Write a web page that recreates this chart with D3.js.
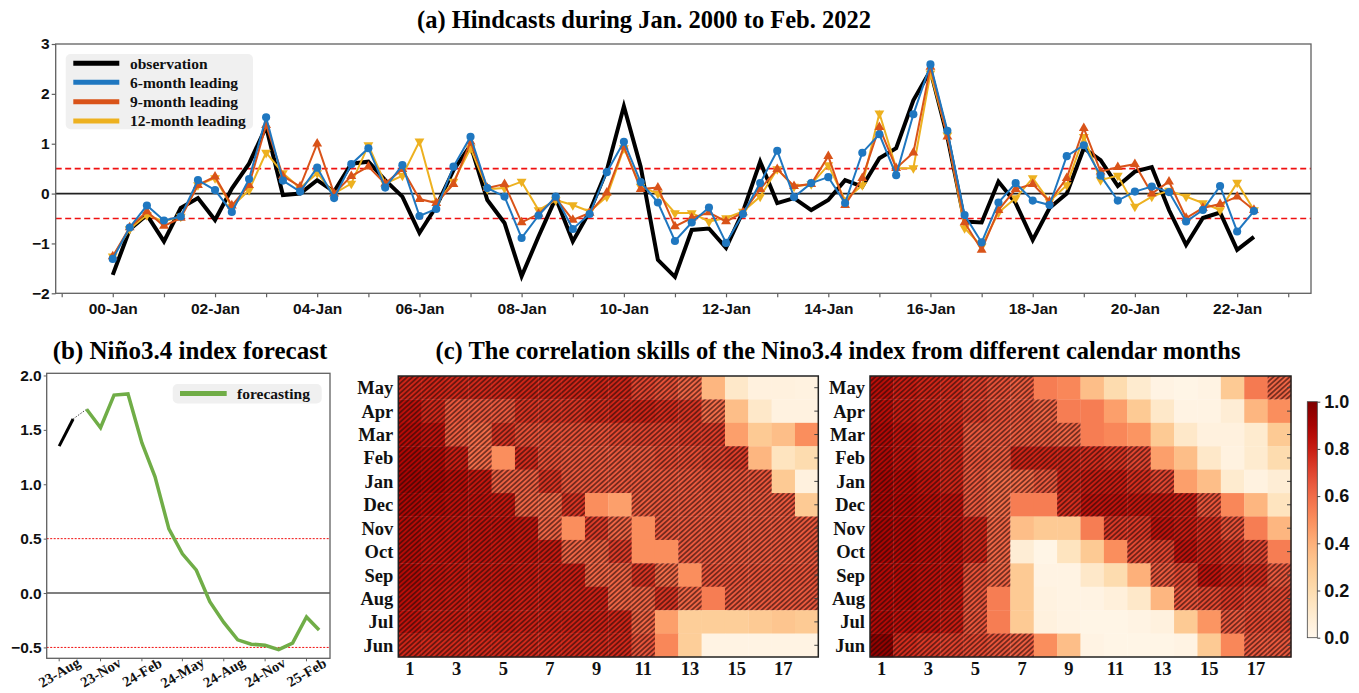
<!DOCTYPE html>
<html>
<head>
<meta charset="utf-8">
<script src="https://cdn.jsdelivr.net/npm/d3@7"></script>
<style>
  body { margin: 0; background: #fff; }
  svg { display: block; font-family: "Liberation Serif", "Times New Roman", serif; font-weight: bold; }
</style>
</head>
<body>
<div id="chart"></div>
<script>
// ---------- data ----------
// (a) hindcasts, one value every 4 months from Jan 2000 to May 2022
let obs = [-1.63, -0.72, -0.43, -0.96, -0.29, -0.09, -0.53, 0.1, 0.6, 1.34, -0.03, 0.0, 0.27, 0.04, 0.6, 0.64,
  0.27, -0.06, -0.79, -0.26, 0.47, 0.97, -0.13, -0.59, -1.66, -0.86, -0.09, -0.96, -0.36, 0.47, 1.75, 0.54,
  -1.33, -1.67, -0.73, -0.7, -1.09, -0.36, 0.64, -0.19, -0.09, -0.33, -0.13, 0.27, 0.14, 0.71, 0.91, 1.87,
  2.47, 1.14, -0.56, -0.58, 0.24, -0.19, -0.93, -0.29, 0.0, 0.91, 0.67, 0.15, 0.44, 0.53, -0.33, -1.03,
  -0.49, -0.38, -1.13, -0.87];
let lead6 = [-1.31, -0.68, -0.24, -0.54, -0.46, 0.27, 0.07, -0.37, 0.29, 1.53, 0.26, 0.04, 0.52, -0.09, 0.59, 0.91,
  0.12, 0.57, -0.45, -0.31, 0.54, 1.14, 0.11, -0.06, -0.89, -0.44, -0.06, -0.71, -0.41, 0.43, 1.04, 0.23,
  -0.18, -0.95, -0.58, -0.28, -0.99, -0.41, 0.21, 0.86, -0.07, 0.21, 0.33, -0.19, 0.82, 1.19, 0.37, 1.59,
  2.59, 1.26, -0.43, -0.98, -0.18, 0.21, -0.14, -0.23, 0.75, 0.97, 0.36, -0.14, 0.04, 0.14, 0.03, -0.56,
  -0.33, 0.15, -0.76, -0.35];
let lead9 = [-1.26, -0.68, -0.36, -0.65, -0.49, 0.17, 0.34, -0.24, 0.17, 1.37, 0.35, 0.14, 1.0, 0.0, 0.35, 0.54,
  0.2, 0.49, -0.11, -0.19, 0.19, 1.04, 0.11, 0.19, -0.58, -0.41, -0.09, -0.53, -0.39, 0.02, 0.94, 0.09,
  0.12, -0.66, -0.49, -0.38, -0.56, -0.38, 0.09, 0.49, 0.15, 0.19, 0.75, -0.23, 0.31, 1.33, 0.51, 0.82,
  2.54, 1.14, -0.58, -1.13, -0.33, 0.09, 0.19, -0.16, 0.31, 1.31, 0.44, 0.53, 0.59, 0.0, 0.24, -0.49,
  -0.29, -0.21, -0.06, -0.33];
let lead12 = [-1.26, -0.71, -0.43, -0.56, -0.46, 0.17, 0.31, -0.26, 0.07, 0.82, 0.41, 0.11, 0.41, 0.0, 0.2, 0.97,
  0.2, 0.36, 1.05, -0.19, 0.24, 0.91, 0.09, 0.11, 0.24, -0.33, -0.13, -0.23, -0.36, -0.06, 0.91, 0.14,
  0.0, -0.39, -0.39, -0.56, -0.49, -0.36, -0.06, 0.49, 0.14, 0.19, 0.57, -0.13, 0.17, 1.61, 0.51, 0.51,
  2.41, 1.17, -0.69, -1.06, -0.38, -0.09, 0.31, -0.16, 0.17, 1.14, 0.27, 0.36, -0.26, -0.06, 0.06, -0.06,
  -0.19, -0.33, 0.22, -0.33];
let seriesNames = ["observation", "6-month leading", "9-month leading", "12-month leading"];

// (b) recent observation (Aug-Sep 2023) and forecast (Oct 2023 - Mar 2025)
let obsRecent = [1.35, 1.6];
let forecast = [1.69, 1.52, 1.82, 1.83, 1.38, 1.07, 0.59, 0.36, 0.21, -0.08, -0.27, -0.43, -0.47, -0.48,
  -0.52, -0.46, -0.22, -0.34];

// (c) correlation skill, rows from May (top) to Jun (bottom), columns lead 1..18
let calMonths = ["May", "Apr", "Mar", "Feb", "Jan", "Dec", "Nov", "Oct", "Sep", "Aug", "Jul", "Jun"];
let leads = d3.range(1, 19);
let leadLabels = [1, 3, 5, 7, 9, 11, 13, 15, 17];
let cbTicks = [0, 0.2, 0.4, 0.6, 0.8, 1.0];
let sigLevel = 0.58;
let skillLeft = [
  [0.78, 0.78, 0.77, 0.77, 0.77, 0.78, 0.78, 0.78, 0.78, 0.78, 0.7, 0.67, 0.62, 0.38, 0.12, 0.05, 0.05, 0.04],
  [0.84, 0.77, 0.65, 0.65, 0.65, 0.74, 0.74, 0.74, 0.76, 0.78, 0.78, 0.76, 0.74, 0.6, 0.35, 0.12, 0.04, 0.04],
  [0.86, 0.83, 0.64, 0.6, 0.74, 0.67, 0.67, 0.67, 0.67, 0.69, 0.7, 0.7, 0.72, 0.72, 0.45, 0.3, 0.35, 0.5],
  [0.88, 0.86, 0.8, 0.6, 0.5, 0.76, 0.67, 0.65, 0.65, 0.65, 0.65, 0.68, 0.68, 0.7, 0.72, 0.38, 0.15, 0.2],
  [0.9, 0.88, 0.85, 0.82, 0.63, 0.63, 0.74, 0.65, 0.65, 0.65, 0.65, 0.65, 0.65, 0.66, 0.66, 0.66, 0.3, 0.05],
  [0.88, 0.86, 0.84, 0.83, 0.82, 0.62, 0.6, 0.74, 0.5, 0.45, 0.64, 0.65, 0.65, 0.65, 0.65, 0.65, 0.65, 0.3],
  [0.86, 0.84, 0.83, 0.83, 0.83, 0.82, 0.62, 0.5, 0.72, 0.62, 0.5, 0.65, 0.65, 0.65, 0.65, 0.65, 0.65, 0.65],
  [0.86, 0.83, 0.83, 0.83, 0.82, 0.82, 0.81, 0.62, 0.62, 0.72, 0.5, 0.5, 0.65, 0.65, 0.65, 0.65, 0.65, 0.65],
  [0.86, 0.83, 0.82, 0.82, 0.82, 0.81, 0.8, 0.8, 0.62, 0.62, 0.74, 0.6, 0.5, 0.66, 0.66, 0.66, 0.66, 0.66],
  [0.85, 0.82, 0.81, 0.81, 0.81, 0.8, 0.8, 0.79, 0.79, 0.62, 0.62, 0.74, 0.62, 0.55, 0.65, 0.65, 0.65, 0.65],
  [0.83, 0.8, 0.8, 0.8, 0.8, 0.79, 0.79, 0.79, 0.79, 0.78, 0.62, 0.45, 0.28, 0.28, 0.28, 0.3, 0.32, 0.3],
  [0.78, 0.77, 0.77, 0.77, 0.77, 0.77, 0.77, 0.77, 0.77, 0.77, 0.66, 0.52, 0.28, 0.03, 0.03, 0.03, 0.03, 0.03]
];
let skillRight = [
  [0.85, 0.8, 0.78, 0.76, 0.71, 0.67, 0.64, 0.55, 0.52, 0.35, 0.2, 0.1, 0.03, 0.02, 0.03, 0.3, 0.56, 0.62],
  [0.85, 0.8, 0.78, 0.76, 0.71, 0.67, 0.65, 0.62, 0.55, 0.55, 0.45, 0.3, 0.12, 0.03, 0.03, 0.08, 0.38, 0.5],
  [0.87, 0.83, 0.8, 0.78, 0.65, 0.65, 0.64, 0.64, 0.62, 0.55, 0.52, 0.48, 0.3, 0.12, 0.05, 0.05, 0.1, 0.3],
  [0.87, 0.83, 0.8, 0.78, 0.66, 0.64, 0.78, 0.78, 0.78, 0.76, 0.74, 0.7, 0.45, 0.35, 0.12, 0.04, 0.1, 0.2],
  [0.89, 0.86, 0.83, 0.78, 0.65, 0.6, 0.6, 0.65, 0.78, 0.8, 0.8, 0.76, 0.7, 0.45, 0.35, 0.1, 0.04, 0.08],
  [0.89, 0.87, 0.85, 0.83, 0.65, 0.6, 0.55, 0.55, 0.76, 0.83, 0.83, 0.82, 0.82, 0.8, 0.66, 0.52, 0.38, 0.15],
  [0.89, 0.87, 0.85, 0.83, 0.78, 0.62, 0.35, 0.3, 0.3, 0.55, 0.73, 0.73, 0.83, 0.8, 0.76, 0.67, 0.55, 0.38],
  [0.89, 0.87, 0.85, 0.84, 0.78, 0.62, 0.08, 0.02, 0.15, 0.3, 0.5, 0.69, 0.7, 0.83, 0.78, 0.74, 0.7, 0.55],
  [0.87, 0.86, 0.84, 0.83, 0.67, 0.62, 0.3, 0.03, 0.03, 0.12, 0.2, 0.4, 0.65, 0.69, 0.83, 0.78, 0.76, 0.65],
  [0.87, 0.86, 0.84, 0.82, 0.66, 0.55, 0.3, 0.04, 0.03, 0.03, 0.06, 0.12, 0.38, 0.66, 0.69, 0.73, 0.7, 0.69],
  [0.87, 0.84, 0.83, 0.8, 0.66, 0.55, 0.3, 0.05, 0.03, 0.02, 0.02, 0.03, 0.05, 0.3, 0.48, 0.65, 0.69, 0.69],
  [0.95, 0.76, 0.73, 0.71, 0.69, 0.66, 0.64, 0.5, 0.35, 0.03, 0.02, 0.02, 0.02, 0.03, 0.3, 0.52, 0.65, 0.65]
];

// ---------- svg ----------
let W = 1359, H = 693;
let svg = d3.select("#chart").append("svg").attr("width", W).attr("height", H);
let defs = svg.append("defs");

let colBlue = "#1f77c0", colOrange = "#d95319", colYellow = "#edb120", colGreen = "#70ad47";
let frameCol = "#606060";

// ====================== (a) ======================
let A = { left: 55.7, right: 1311, top: 44, bottom: 293.3 };
let datesA = d3.timeMonth.every(4).range(new Date(2000, 0, 1), new Date(2022, 5, 2));
let spanA = datesA[datesA.length - 1] - datesA[0];
let xA = d3.scaleTime()
  .domain([new Date(+datesA[0] - 0.05 * spanA), new Date(+datesA[datesA.length - 1] + 0.05 * spanA)])
  .range([A.left, A.right]);
let yA = d3.scaleLinear().domain([-2, 3]).range([A.bottom, A.top]);

let gA = svg.append("g");
gA.append("text").attr("x", 644).attr("y", 28).attr("text-anchor", "middle")
  .attr("font-size", 24.5).text("(a) Hindcasts during Jan. 2000 to Feb. 2022");

// axes
let yearTicks = d3.timeYear.range(new Date(1999, 0, 1), new Date(2024, 0, 1));
let xAxisA = d3.axisBottom(xA).tickValues(yearTicks).tickSize(4).tickPadding(6)
  .tickFormat((d) => (d.getFullYear() % 2 === 0 ? d3.timeFormat("%y-%b")(d) : ""));
let xAxisElA = gA.append("g").attr("transform", "translate(0," + A.bottom + ")").call(xAxisA);
let yAxisA = d3.axisLeft(yA).tickValues([-2, -1, 0, 1, 2, 3]).tickSize(4).tickPadding(2).tickFormat(d3.format("d"));
let yAxisElA = gA.append("g").attr("transform", "translate(" + A.left + ",0)").call(yAxisA);
[xAxisElA, yAxisElA].forEach((el) => {
  el.select(".domain").remove();
  el.selectAll("line").attr("stroke", frameCol).attr("stroke-width", 1.2);
  el.selectAll("text").attr("font-size", 15.5).attr("fill", "#111").attr("font-family", null);
});

// reference lines
gA.append("line").attr("x1", A.left).attr("x2", A.right).attr("y1", yA(0)).attr("y2", yA(0))
  .attr("stroke", "#222").attr("stroke-width", 1.8);
[0.5, -0.5].forEach((v) => {
  gA.append("line").attr("x1", A.left).attr("x2", A.right).attr("y1", yA(v)).attr("y2", yA(v))
    .attr("stroke", "#f01010").attr("stroke-width", 1.6).attr("stroke-dasharray", "6,3.5");
});

let lineA = (vals) => d3.line().x((d, i) => xA(datesA[i])).y((d) => yA(d))(vals);

gA.append("path").attr("d", lineA(obs)).attr("fill", "none").attr("stroke", "#000")
  .attr("stroke-width", 4).attr("stroke-linejoin", "miter");

function drawSeries(vals, color, symbol, size) {
  let g = gA.append("g");
  g.append("path").attr("d", lineA(vals)).attr("fill", "none").attr("stroke", color).attr("stroke-width", 2);
  g.selectAll("path.m").data(vals).join("path").attr("class", "m")
    .attr("transform", (d, i) => "translate(" + xA(datesA[i]) + "," + yA(d) + ")" + (symbol === "down" ? " rotate(180)" : ""))
    .attr("d", d3.symbol().type(symbol === "circle" ? d3.symbolCircle : d3.symbolTriangle).size(size))
    .attr("fill", color);
}
drawSeries(lead12, colYellow, "down", 42);
drawSeries(lead9, colOrange, "up", 42);
drawSeries(lead6, colBlue, "circle", 52);

// frame
gA.append("rect").attr("x", A.left).attr("y", A.top).attr("width", A.right - A.left).attr("height", A.bottom - A.top)
  .attr("fill", "none").attr("stroke", frameCol).attr("stroke-width", 1.3);

// legend
let legA = gA.append("g");
legA.append("rect").attr("x", 65.7).attr("y", 54).attr("width", 187.3).attr("height", 75.3).attr("rx", 5)
  .attr("fill", "#efefef").attr("fill-opacity", 0.92);
let legColors = ["#000", colBlue, colOrange, colYellow];
let legY = [63.3, 82.3, 101.7, 121];
seriesNames.forEach((name, i) => {
  legA.append("line").attr("x1", 73.3).attr("x2", 119.3).attr("y1", legY[i]).attr("y2", legY[i])
    .attr("stroke", legColors[i]).attr("stroke-width", 5);
  legA.append("text").attr("x", 130).attr("y", legY[i]).attr("dy", "0.35em").attr("font-size", 15.5)
    .attr("fill", "#111").text(name);
});

// ====================== (b) ======================
let B = { left: 46.7, right: 330, top: 373.3, bottom: 658.3 };
let datesObsB = d3.timeMonth.range(new Date(2023, 7, 1), new Date(2023, 8, 2));
let datesFcB = d3.timeMonth.range(new Date(2023, 9, 1), new Date(2025, 2, 2));
let b0 = datesObsB[0], b1 = datesFcB[datesFcB.length - 1];
let spanB = b1 - b0;
let xB = d3.scaleTime().domain([new Date(+b0 - 0.048 * spanB), new Date(+b1 + 0.042 * spanB)]).range([B.left, B.right]);
let yB = d3.scaleLinear().domain([-0.6, 2.02]).range([B.bottom, B.top]);

let gB = svg.append("g");
gB.append("text").attr("x", 190).attr("y", 359).attr("text-anchor", "middle").attr("font-size", 25)
  .text("(b) Niño3.4 index forecast");

let yAxisB = d3.axisLeft(yB).tickValues([-0.5, 0, 0.5, 1.0, 1.5, 2.0]).tickSize(3).tickPadding(2).tickFormat(d3.format(".1f"));
let yAxisElB = gB.append("g").attr("transform", "translate(" + B.left + ",0)").call(yAxisB);
yAxisElB.select(".domain").remove();
yAxisElB.selectAll("line").attr("stroke", frameCol);
yAxisElB.selectAll("text").attr("font-size", 15.5).attr("fill", "#111").attr("font-family", null);

let tickDatesB = d3.timeMonth.range(new Date(2023, 7, 1), new Date(2025, 2, 2), 3);
let xTickB = gB.append("g");
tickDatesB.forEach((d) => {
  xTickB.append("line").attr("x1", xB(d)).attr("x2", xB(d)).attr("y1", B.bottom).attr("y2", B.bottom + 3).attr("stroke", frameCol);
  xTickB.append("text").attr("transform", "translate(" + xB(d) + "," + (B.bottom + 14) + ") rotate(-30)")
    .attr("text-anchor", "middle").attr("dy", "0.35em").attr("font-size", 14.5).attr("fill", "#111")
    .text(d3.timeFormat("%y-%b")(d));
});

gB.append("line").attr("x1", B.left).attr("x2", B.right).attr("y1", yB(0)).attr("y2", yB(0))
  .attr("stroke", "#555").attr("stroke-width", 1.6);
[0.5, -0.5].forEach((v) => {
  gB.append("line").attr("x1", B.left).attr("x2", B.right).attr("y1", yB(v)).attr("y2", yB(v))
    .attr("stroke", "#f01010").attr("stroke-width", 1).attr("stroke-dasharray", "2,1.5");
});

let lineB = d3.line().x((d) => xB(d[0])).y((d) => yB(d[1]));
gB.append("path").attr("d", lineB(datesObsB.map((d, i) => [d, obsRecent[i]])))
  .attr("fill", "none").attr("stroke", "#000").attr("stroke-width", 3);
gB.append("path").attr("d", lineB([[datesObsB[1], obsRecent[1]], [datesFcB[0], forecast[0]]]))
  .attr("fill", "none").attr("stroke", "#333").attr("stroke-width", 0.9).attr("stroke-dasharray", "1.5,1.5");
gB.append("path").attr("d", lineB(datesFcB.map((d, i) => [d, forecast[i]])))
  .attr("fill", "none").attr("stroke", colGreen).attr("stroke-width", 3.5);

gB.append("rect").attr("x", B.left).attr("y", B.top).attr("width", B.right - B.left).attr("height", B.bottom - B.top)
  .attr("fill", "none").attr("stroke", frameCol).attr("stroke-width", 1.3);

gB.append("rect").attr("x", 172.7).attr("y", 384).attr("width", 149).attr("height", 19.5).attr("rx", 5)
  .attr("fill", "#efefef").attr("fill-opacity", 0.92);
gB.append("line").attr("x1", 180).attr("x2", 226.7).attr("y1", 393.5).attr("y2", 393.5)
  .attr("stroke", colGreen).attr("stroke-width", 5);
gB.append("text").attr("x", 237).attr("y", 393.5).attr("dy", "0.35em").attr("font-size", 15.5)
  .attr("fill", "#111").text("forecasting");

// ====================== (c) ======================
let color = d3.scaleSequential(d3.interpolateOrRd).domain([0, 1]);
// diagonal hatch: horizontal lines rotated to ~40 degrees
let pat = defs.append("pattern").attr("id", "hatch").attr("patternUnits", "userSpaceOnUse")
  .attr("width", 10).attr("height", 3.6).attr("patternTransform", "rotate(-42)");
pat.append("line").attr("x1", -1).attr("x2", 11).attr("y1", 1.8).attr("y2", 1.8)
  .attr("stroke", "#1e0604").attr("stroke-width", 1.15).attr("stroke-opacity", 0.9);

let gC = svg.append("g");
gC.append("text").attr("x", 838).attr("y", 359).attr("text-anchor", "middle").attr("font-size", 24.5)
  .text("(c) The correlation skills of the Nino3.4 index from different calendar months");

let C = { top: 376, bottom: 657 };
function drawHeat(x0, x1, matrix) {
  let g = gC.append("g");
  let xC = d3.scaleBand().domain(leads).range([x0, x1]);
  let yC = d3.scaleBand().domain(calMonths).range([C.top, C.bottom]);
  let cells = [];
  matrix.forEach((row, r) => row.forEach((v, c) => cells.push({ m: calMonths[r], l: leads[c], v: v })));
  g.selectAll("rect.cell").data(cells).join("rect").attr("class", "cell")
    .attr("x", (d) => xC(d.l)).attr("y", (d) => yC(d.m))
    .attr("width", xC.bandwidth() + 0.3).attr("height", yC.bandwidth() + 0.3)
    .attr("fill", (d) => color(d.v));
  g.selectAll("rect.hatch").data(cells.filter((d) => d.v >= sigLevel)).join("rect").attr("class", "hatch")
    .attr("x", (d) => xC(d.l)).attr("y", (d) => yC(d.m))
    .attr("width", xC.bandwidth()).attr("height", yC.bandwidth())
    .attr("fill", "url(#hatch)");
  // right-side inward ticks
  calMonths.forEach((m) => {
    g.append("line").attr("x1", x1 - 4).attr("x2", x1).attr("y1", yC(m) + yC.bandwidth() / 2)
      .attr("y2", yC(m) + yC.bandwidth() / 2).attr("stroke", "#444").attr("stroke-width", 1);
  });
  g.append("rect").attr("x", x0).attr("y", C.top).attr("width", x1 - x0).attr("height", C.bottom - C.top)
    .attr("fill", "none").attr("stroke", "#222").attr("stroke-width", 1.5);
  g.selectAll("text.ml").data(calMonths).join("text").attr("class", "ml")
    .attr("x", x0 - 5).attr("y", (d) => yC(d) + yC.bandwidth() / 2).attr("dy", "0.35em")
    .attr("text-anchor", "end").attr("font-size", 18.5).attr("fill", "#111").text((d) => d);
  g.selectAll("text.ll").data(leadLabels).join("text").attr("class", "ll")
    .attr("x", (d) => xC(d) + xC.bandwidth() / 2).attr("y", 675)
    .attr("text-anchor", "middle").attr("font-size", 18.5).attr("fill", "#111").text((d) => d);
}
drawHeat(398.3, 818.3, skillLeft);
drawHeat(870, 1291, skillRight);

// colorbar
let grad = defs.append("linearGradient").attr("id", "cbar").attr("x1", 0).attr("x2", 0).attr("y1", 1).attr("y2", 0);
d3.range(0, 1.0001, 0.05).forEach((t) => {
  grad.append("stop").attr("offset", t).attr("stop-color", color(t));
});
let cb = { x: 1307.3, w: 10, top: 401.7, bottom: 637.7 };
let yCb = d3.scaleLinear().domain([0, 1]).range([cb.bottom, cb.top]);
gC.append("rect").attr("x", cb.x).attr("y", cb.top).attr("width", cb.w).attr("height", cb.bottom - cb.top)
  .attr("fill", "url(#cbar)").attr("stroke", "#444").attr("stroke-width", 0.8);
let cbAxis = d3.axisRight(yCb).tickValues(cbTicks).tickSize(3).tickPadding(4).tickFormat(d3.format(".1f"));
let cbEl = gC.append("g").attr("transform", "translate(" + (cb.x + cb.w) + ",0)").call(cbAxis);
cbEl.select(".domain").remove();
cbEl.selectAll("line").attr("stroke", "#444");
cbEl.selectAll("text").attr("font-size", 18).attr("fill", "#111").attr("font-family", null);
</script>
</body>
</html>
